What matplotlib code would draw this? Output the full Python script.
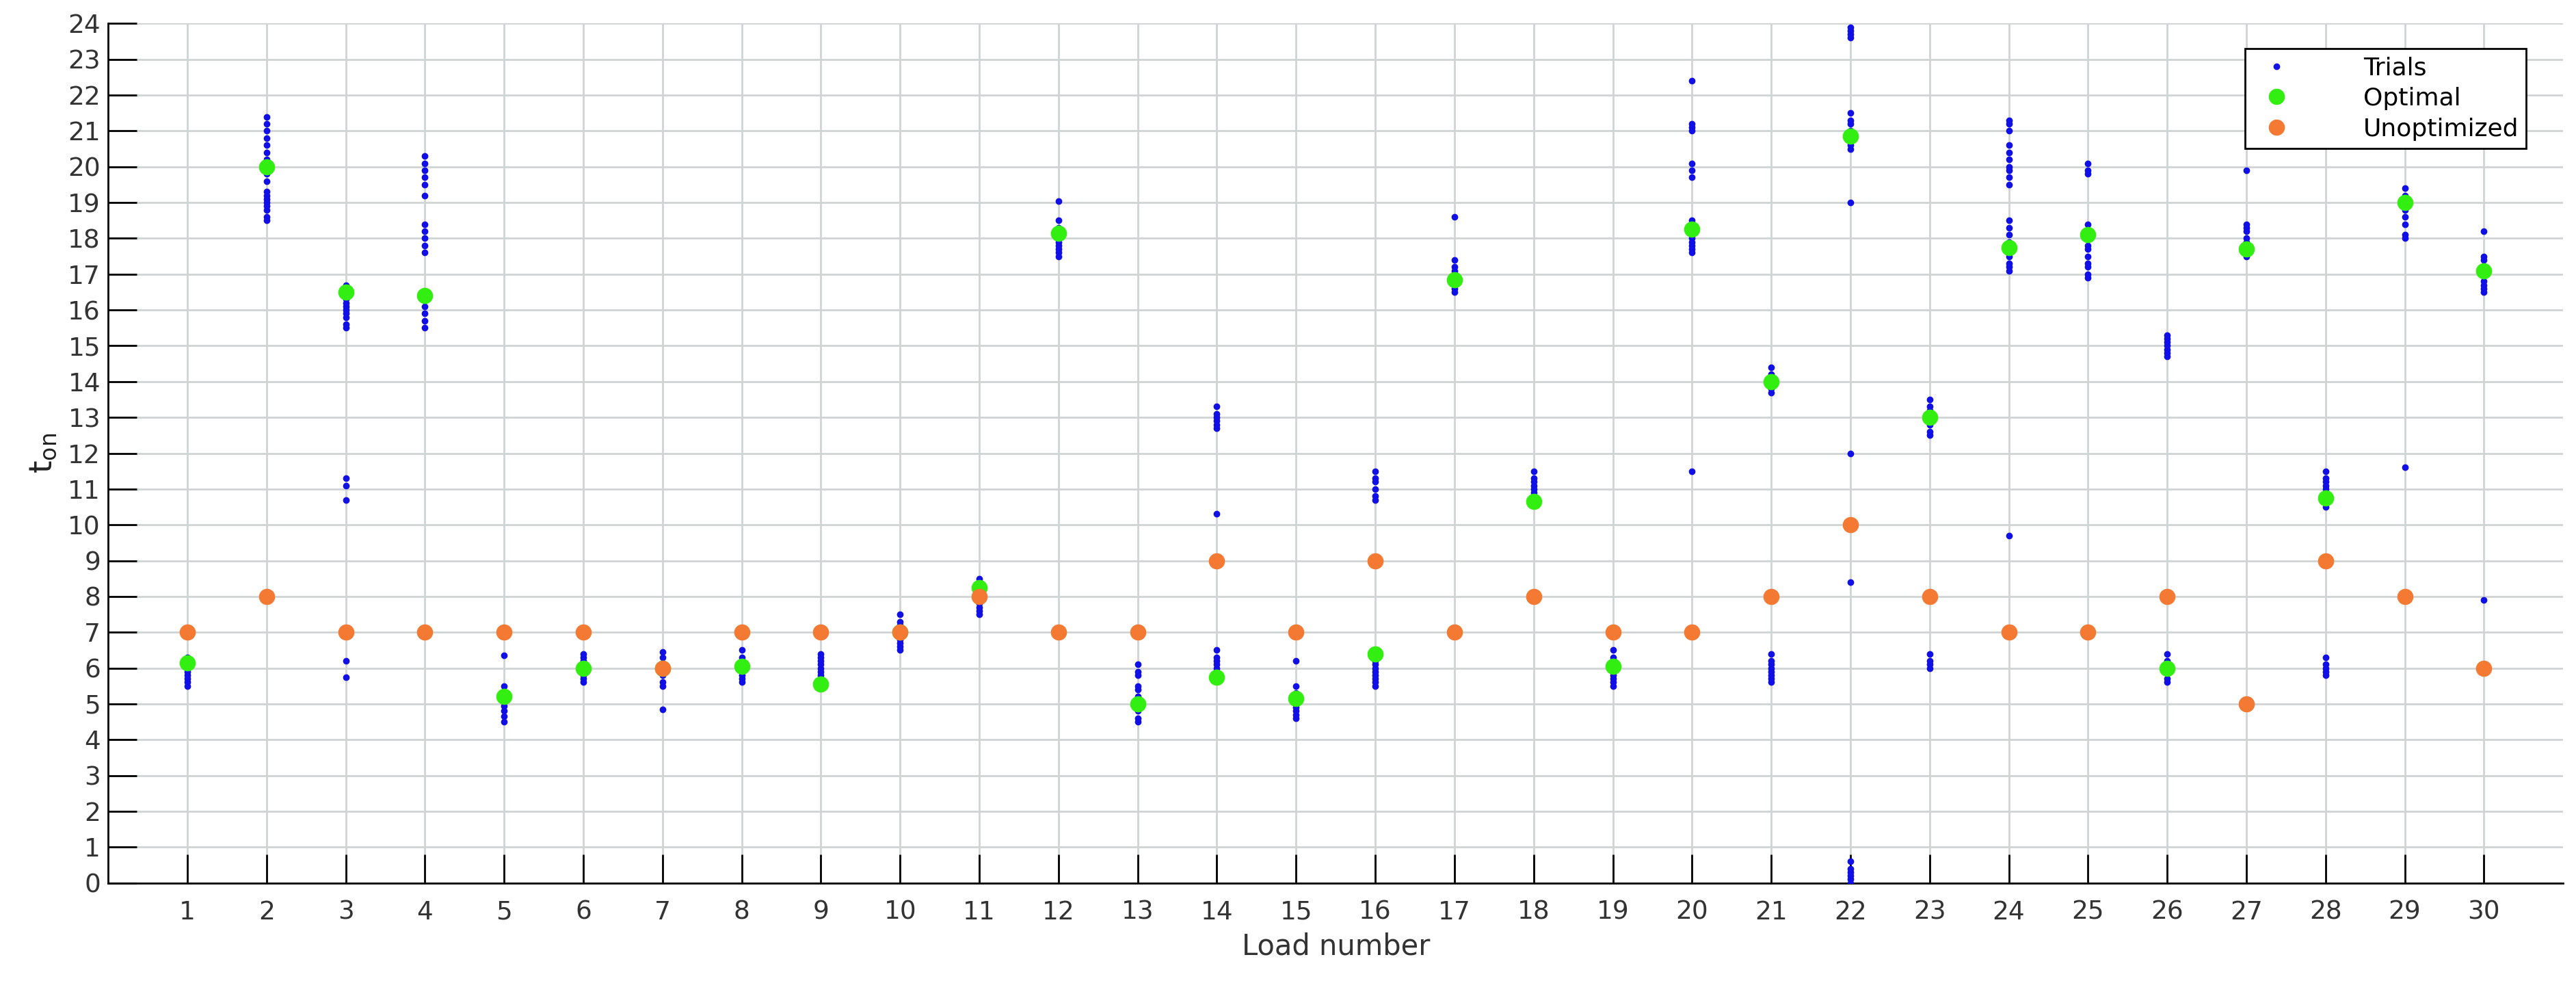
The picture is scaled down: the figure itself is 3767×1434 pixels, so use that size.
import matplotlib
matplotlib.use('Agg')
import matplotlib.pyplot as plt

loads = list(range(1, 31))

trials = {
    1: [5.5, 5.6, 5.7, 5.8, 5.9, 6.0, 6.1, 6.2, 6.3],
    2: [18.5, 18.6, 18.8, 18.9, 19.0, 19.1, 19.2, 19.3, 19.6, 19.8, 20.0, 20.2, 20.4, 20.6, 20.8, 21.0, 21.2, 21.4],
    3: [5.75, 6.2, 10.7, 11.1, 11.3, 15.5, 15.6, 15.8, 15.9, 16.0, 16.1, 16.2, 16.3, 16.5, 16.7],
    4: [15.5, 15.7, 15.9, 16.1, 16.3, 16.5, 17.6, 17.8, 18.0, 18.2, 18.4, 19.2, 19.5, 19.7, 19.9, 20.1, 20.3],
    5: [4.5, 4.65, 4.8, 4.95, 5.1, 5.3, 5.5, 6.35],
    6: [5.6, 5.7, 5.8, 5.9, 6.0, 6.1, 6.2, 6.3, 6.4],
    7: [4.85, 5.5, 5.6, 5.8, 5.9, 6.0, 6.1, 6.3, 6.45],
    8: [5.6, 5.7, 5.8, 5.9, 6.0, 6.2, 6.3, 6.5],
    9: [5.6, 5.7, 5.8, 5.9, 6.0, 6.1, 6.2, 6.3, 6.4],
    10: [6.5, 6.6, 6.7, 6.8, 7.0, 7.1, 7.2, 7.3, 7.5],
    11: [7.5, 7.6, 7.7, 7.8, 7.9, 8.0, 8.2, 8.35, 8.5],
    12: [17.5, 17.6, 17.7, 17.8, 17.9, 18.0, 18.2, 18.3, 18.5, 19.05],
    13: [4.5, 4.6, 4.8, 5.0, 5.2, 5.4, 5.5, 5.8, 5.9, 6.1],
    14: [5.7, 5.8, 5.9, 6.0, 6.1, 6.2, 6.3, 6.5, 10.3, 12.7, 12.8, 12.9, 13.0, 13.1, 13.3],
    15: [4.6, 4.7, 4.8, 4.9, 5.0, 5.1, 5.3, 5.5, 6.2],
    16: [5.5, 5.6, 5.7, 5.8, 5.9, 6.0, 6.1, 6.2, 6.4, 10.7, 10.8, 11.0, 11.2, 11.3, 11.5],
    17: [16.5, 16.6, 16.7, 16.8, 16.9, 17.0, 17.1, 17.2, 17.4, 18.6],
    18: [10.6, 10.7, 10.8, 10.9, 11.0, 11.1, 11.2, 11.3, 11.5],
    19: [5.5, 5.6, 5.7, 5.8, 5.9, 6.0, 6.2, 6.3, 6.5],
    20: [11.5, 17.6, 17.7, 17.8, 17.9, 18.0, 18.1, 18.3, 18.5, 19.7, 19.9, 20.1, 21.0, 21.1, 21.2, 22.4],
    21: [5.6, 5.7, 5.8, 5.9, 6.0, 6.1, 6.2, 6.4, 13.7, 13.8, 14.0, 14.2, 14.4],
    22: [0.0, 0.1, 0.2, 0.3, 0.4, 0.6, 8.4, 12.0, 19.0, 20.5, 20.6, 20.8, 21.0, 21.2, 21.3, 21.5, 23.6, 23.7, 23.8, 23.9],
    23: [6.0, 6.1, 6.2, 6.4, 12.5, 12.6, 12.8, 12.9, 13.0, 13.2, 13.3, 13.5],
    24: [9.7, 17.1, 17.2, 17.3, 17.5, 17.7, 17.9, 18.1, 18.3, 18.5, 19.5, 19.7, 19.9, 20.0, 20.2, 20.4, 20.6, 21.0, 21.2, 21.3],
    25: [16.9, 17.0, 17.2, 17.3, 17.5, 17.7, 17.8, 18.0, 18.2, 18.4, 19.8, 19.9, 20.1],
    26: [5.6, 5.7, 5.9, 6.0, 6.1, 6.2, 6.4, 14.7, 14.8, 14.9, 15.0, 15.1, 15.2, 15.3],
    27: [17.5, 17.6, 17.7, 17.8, 17.9, 18.0, 18.2, 18.3, 18.4, 19.9],
    28: [5.8, 5.9, 6.0, 6.1, 6.3, 10.5, 10.7, 10.8, 11.0, 11.1, 11.2, 11.3, 11.5],
    29: [11.6, 18.0, 18.1, 18.4, 18.6, 18.8, 19.0, 19.1, 19.2, 19.4],
    30: [7.9, 16.5, 16.6, 16.7, 16.8, 17.0, 17.2, 17.4, 17.5, 18.2],
}

optimal = [6.15, 20.0, 16.5, 16.4, 5.2, 6.0, 6.0, 6.05, 5.55, 7.0,
           8.25, 18.15, 5.0, 5.75, 5.15, 6.4, 16.85, 10.65, 6.05, 18.25,
           14.0, 20.85, 13.0, 17.75, 18.1, 6.0, 17.7, 10.75, 19.0, 17.1]
unoptimized = [7, 8, 7, 7, 7, 7, 6, 7, 7, 7,
               8, 7, 7, 9, 7, 9, 7, 8, 7, 7,
               8, 10, 8, 7, 7, 8, 5, 9, 8, 6]

fig = plt.figure(figsize=(37.67, 14.34), dpi=100)
ax = fig.add_axes([0.042, 0.100, 0.953, 0.876])

tx = [k for k in loads for v in trials[k]]
ty = [v for k in loads for v in trials[k]]
ax.plot(tx, ty, 'o', color='#1010e6', markersize=6, linestyle='none', label='Trials', zorder=3)
ax.plot(loads, optimal, 'o', color='#33ee11', markersize=16, linestyle='none', label='Optimal', zorder=4)
ax.plot(loads, unoptimized, 'o', color='#f47a34', markersize=16, linestyle='none', label='Unoptimized', zorder=5)

ax.set_xlim(0, 31)
ax.set_ylim(0, 24)
ax.set_xticks(loads)
ax.set_yticks(range(0, 25))
ax.grid(True, color='#d0d4d4', linewidth=2)
ax.set_axisbelow(True)
for s in ['top', 'right']:
    ax.spines[s].set_visible(False)
ax.spines['left'].set_linewidth(2)
ax.spines['bottom'].set_linewidth(2)
ax.tick_params(axis='x', direction='in', length=30, width=2, labelsize=27, pad=18, colors='black', labelcolor='#333333')
ax.tick_params(axis='y', direction='in', length=30, width=2, labelsize=27, pad=8, colors='black', labelcolor='#333333')
ax.set_xlabel('Load number', fontsize=30, color='#333333', labelpad=8)
ax.set_ylabel('$\\mathregular{t_{on}}$', fontsize=34, color='#222222', labelpad=10)

leg = ax.legend(loc='upper right', bbox_to_anchor=(0.99, 0.985), fontsize=26, fancybox=False,
                framealpha=1, edgecolor='black', handletextpad=2.5, borderpad=0.3, labelspacing=0.3)
leg.get_frame().set_linewidth(2)

fig.savefig('out.png', dpi=100)
